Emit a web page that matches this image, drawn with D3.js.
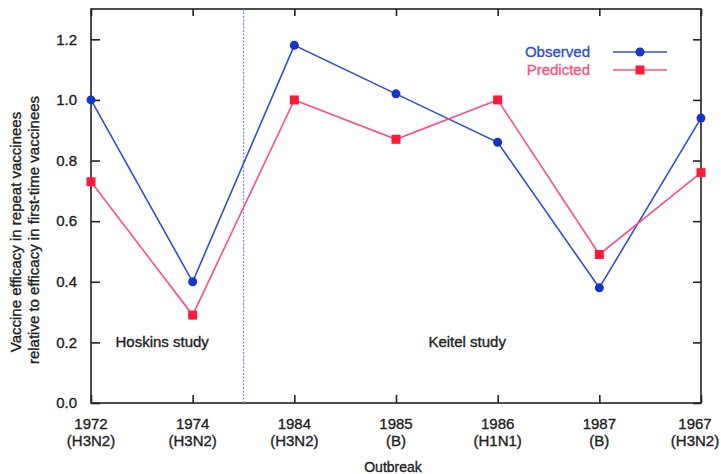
<!DOCTYPE html>
<html>
<head>
<meta charset="utf-8">
<script src="https://cdn.jsdelivr.net/npm/d3@7"></script>
<style>
  body { margin: 0; background: #fff; }
  svg text { font-family: "Liberation Sans", Arial, sans-serif; stroke-width: 0.35; }
</style>
</head>
<body>
<div id="chart"></div>
<script>
// outbreaks along the x axis
const years = ["1972", "1974", "1984", "1985", "1986", "1987", "1967"]
const strains = ["(H3N2)", "(H3N2)", "(H3N2)", "(B)", "(H1N1)", "(B)", "(H3N2)"]
const observed = [1.00, 0.40, 1.18, 1.02, 0.86, 0.38, 0.94]
const predicted = [0.73, 0.29, 1.00, 0.87, 1.00, 0.49, 0.76]
const yTicks = [0, 0.2, 0.4, 0.6, 0.8, 1.0, 1.2]
const studies = [{name: "Hoskins study", at: 0.7}, {name: "Keitel study", at: 3.7}]
const studySplit = 1.5

const width = 721, height = 474
const margin = {top: 9, right: 20, bottom: 71, left: 91}
const ink = "#222"
const blue = "#2f4fd8", blueDot = "#1534c8"
const pink = "#ff4f80", pinkDot = "#ff1a3a"

const svg = d3.select("#chart")
    .append("svg")
    .attr("width", width)
    .attr("height", height)

const x = d3.scaleLinear()
    .domain([0, years.length - 1])
    .range([margin.left, width - margin.right])

const y = d3.scaleLinear()
    .domain([0, 1.3])
    .range([height - margin.bottom, margin.top])

const idx = d3.range(years.length)

// frame
svg.append("rect")
    .attr("x", margin.left)
    .attr("y", margin.top)
    .attr("width", width - margin.left - margin.right)
    .attr("height", height - margin.top - margin.bottom)
    .attr("fill", "none")
    .attr("stroke", ink)
    .attr("stroke-width", 1.6)

// inward ticks on all four sides
let axLeft = svg.append("g")
    .attr("transform", `translate(${margin.left},0)`)
    .call(d3.axisLeft(y).tickValues(yTicks).tickSize(-9).tickPadding(14).tickFormat(d3.format(".1f")))
axLeft.select(".domain").remove()
axLeft.selectAll("line").attr("stroke", ink).attr("stroke-width", 1.6)
axLeft.selectAll("text").attr("font-size", 15).attr("fill", ink).attr("stroke", ink)

let axRight = svg.append("g")
    .attr("transform", `translate(${width - margin.right},0)`)
    .call(d3.axisRight(y).tickValues(yTicks).tickSize(-8).tickFormat(""))
axRight.select(".domain").remove()
axRight.selectAll("line").attr("stroke", ink).attr("stroke-width", 1.6)

let axTop = svg.append("g")
    .attr("transform", `translate(0,${margin.top})`)
    .call(d3.axisTop(x).tickValues(idx).tickSize(-7).tickFormat(""))
axTop.select(".domain").remove()
axTop.selectAll("line").attr("stroke", ink).attr("stroke-width", 1.6)

let axBottom = svg.append("g")
    .attr("transform", `translate(0,${height - margin.bottom})`)
    .call(d3.axisBottom(x).tickValues(idx).tickSize(-8).tickFormat(""))
axBottom.select(".domain").remove()
axBottom.selectAll("line").attr("stroke", ink).attr("stroke-width", 1.6)

// two-line outbreak labels, last one pulled in so it fits the page
let labelX = d => Math.min(x(d), width - 26)
let xl = svg.append("g")
    .selectAll("text")
    .data(idx)
    .enter()
    .append("text")
    .attr("text-anchor", "middle")
    .attr("font-size", 15)
    .attr("fill", ink)
    .attr("stroke", ink)
xl.append("tspan")
    .attr("x", labelX)
    .attr("y", height - margin.bottom + 26)
    .text(d => years[d])
xl.append("tspan")
    .attr("x", labelX)
    .attr("y", height - margin.bottom + 43)
    .text(d => strains[d])

svg.append("text")
    .attr("x", (margin.left + width - margin.right) / 2 - 3)
    .attr("y", height - 2)
    .attr("text-anchor", "middle")
    .attr("font-size", 14)
    .attr("fill", ink)
    .attr("stroke", ink)
    .text("Outbreak")

// y axis title
let yt = svg.append("text")
    .attr("transform", "rotate(-90)")
    .attr("text-anchor", "middle")
    .attr("font-size", 15)
    .attr("fill", ink)
    .attr("stroke", ink)
yt.append("tspan").attr("x", -232).attr("y", 21).text("Vaccine efficacy in repeat vaccinees")
yt.append("tspan").attr("x", -230).attr("y", 39).text("relative to efficacy in first-time vaccinees")

// divider between the two studies
svg.append("line")
    .attr("x1", x(studySplit))
    .attr("x2", x(studySplit))
    .attr("y1", margin.top)
    .attr("y2", height - margin.bottom)
    .attr("stroke", "#6f8fe0")
    .attr("stroke-width", 1.2)
    .attr("stroke-dasharray", "2,1.5")

svg.append("g")
    .selectAll("text")
    .data(studies)
    .enter()
    .append("text")
    .attr("x", d => x(d.at))
    .attr("y", y(0.2) + 5)
    .attr("text-anchor", "middle")
    .attr("font-size", 15)
    .attr("fill", ink)
    .attr("stroke", ink)
    .text(d => d.name)

// series
const line = d3.line().x(d => x(d[0])).y(d => y(d[1]))

svg.append("path")
    .datum(idx.map(i => [i, observed[i]]))
    .attr("d", line)
    .attr("fill", "none")
    .attr("stroke", blue)
    .attr("stroke-width", 1.6)

svg.append("path")
    .datum(idx.map(i => [i, predicted[i]]))
    .attr("d", line)
    .attr("fill", "none")
    .attr("stroke", pink)
    .attr("stroke-width", 1.6)

svg.append("g")
    .selectAll("rect")
    .data(idx)
    .enter()
    .append("rect")
    .attr("x", d => x(d) - 4.5)
    .attr("y", d => y(predicted[d]) - 4.5)
    .attr("width", 9)
    .attr("height", 9)
    .attr("fill", pinkDot)

svg.append("g")
    .selectAll("circle")
    .data(idx)
    .enter()
    .append("circle")
    .attr("cx", d => x(d))
    .attr("cy", d => y(observed[d]))
    .attr("r", 4.5)
    .attr("fill", blueDot)

// legend
const legend = [
    {name: "Observed", color: blue, dot: blueDot, shape: "circle"},
    {name: "Predicted", color: pink, dot: pinkDot, shape: "square"}
]
legend.forEach(function(d, i) {
    let ly = 52 + i * 18
    svg.append("text")
        .attr("x", 590)
        .attr("y", ly + 5)
        .attr("text-anchor", "end")
        .attr("font-size", 15)
        .attr("fill", d.color)
        .attr("stroke", d.color)
        .text(d.name)
    svg.append("line")
        .attr("x1", 613).attr("x2", 667)
        .attr("y1", ly).attr("y2", ly)
        .attr("stroke", d.color)
        .attr("stroke-width", 1.6)
    if (d.shape === "circle") {
        svg.append("circle").attr("cx", 640).attr("cy", ly).attr("r", 4.5).attr("fill", d.dot)
    } else {
        svg.append("rect").attr("x", 635.5).attr("y", ly - 4.5).attr("width", 9).attr("height", 9).attr("fill", d.dot)
    }
})
</script>
</body>
</html>
